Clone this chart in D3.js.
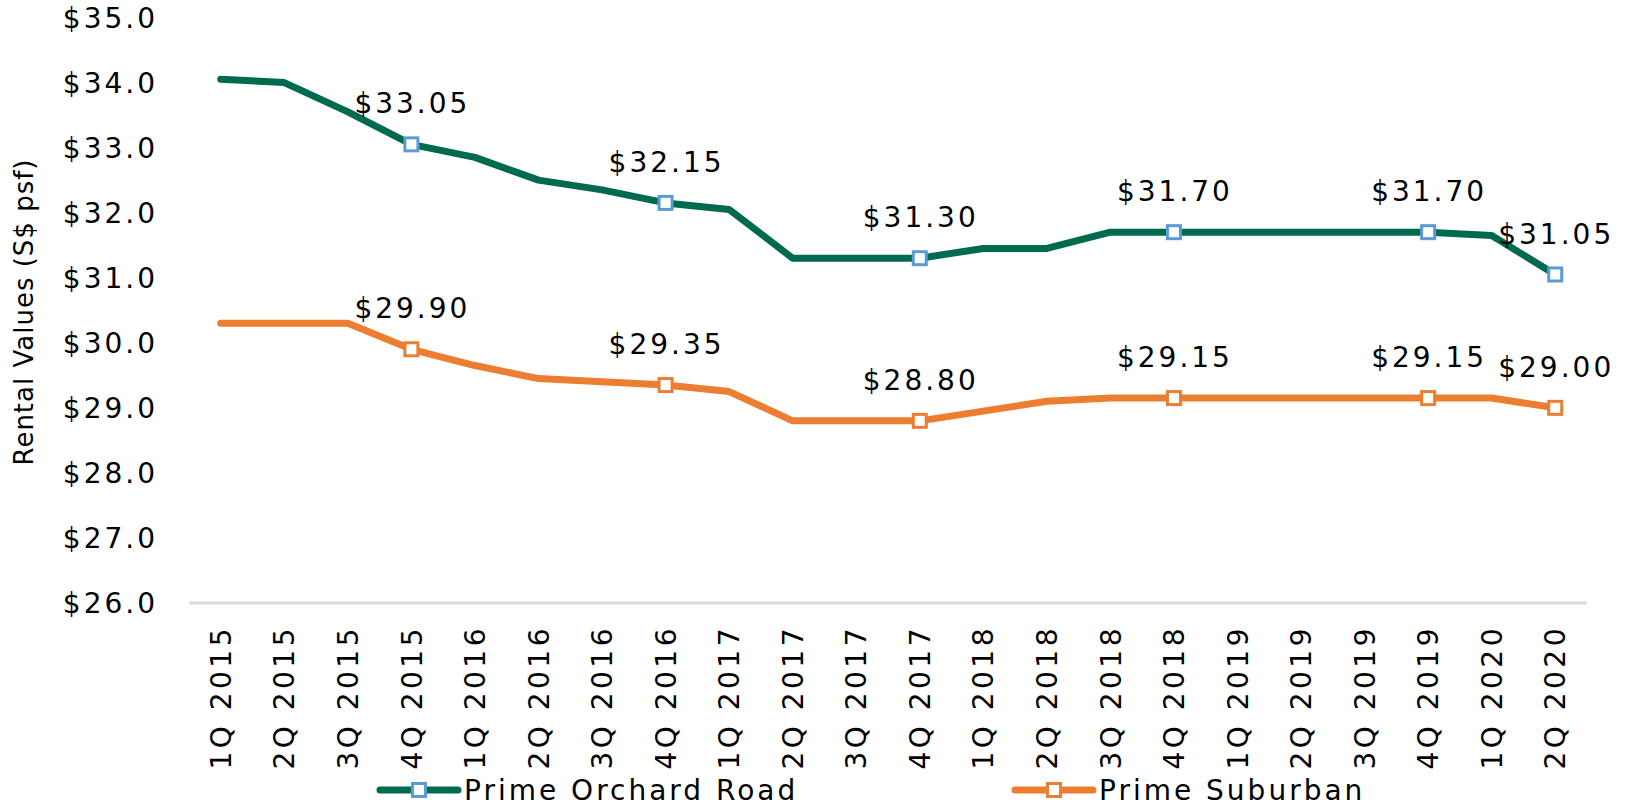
<!DOCTYPE html>
<html>
<head>
<meta charset="utf-8">
<script src="https://cdn.jsdelivr.net/npm/d3@7"></script>
<style>
  body { margin: 0; background: #fff; }
  text { font-family: "DejaVu Sans", sans-serif; fill: #000; }
</style>
</head>
<body>
<svg width="1632" height="807"></svg>
<script>
var quarters = ["1Q 2015", "2Q 2015", "3Q 2015", "4Q 2015", "1Q 2016", "2Q 2016", "3Q 2016", "4Q 2016",
  "1Q 2017", "2Q 2017", "3Q 2017", "4Q 2017", "1Q 2018", "2Q 2018", "3Q 2018", "4Q 2018",
  "1Q 2019", "2Q 2019", "3Q 2019", "4Q 2019", "1Q 2020", "2Q 2020"];
var orchard = [34.05, 34.0, 33.55, 33.05, 32.85, 32.5, 32.35, 32.15, 32.05, 31.3, 31.3, 31.3,
  31.45, 31.45, 31.7, 31.7, 31.7, 31.7, 31.7, 31.7, 31.65, 31.05];
var suburban = [30.3, 30.3, 30.3, 29.9, 29.65, 29.45, 29.4, 29.35, 29.25, 28.8, 28.8, 28.8,
  28.95, 29.1, 29.15, 29.15, 29.15, 29.15, 29.15, 29.15, 29.15, 29.0];
var labelIdx = [3, 7, 11, 15, 19, 21];
var yTicks = [26, 27, 28, 29, 30, 31, 32, 33, 34, 35];
var seriesNames = ["Prime Orchard Road", "Prime Suburban"];

var svg = d3.select("svg");
var plotLeft = 189, plotRight = 1587, plotTop = 17.5, plotBottom = 603;

var x = d3.scalePoint().domain(quarters).range([plotLeft, plotRight]).padding(0.5);
var y = d3.scaleLinear().domain([26, 35]).range([plotBottom, plotTop]);

var series = [
  {name: seriesNames[0], values: orchard, line: "#006a4e", marker: "#5b9bd5"},
  {name: seriesNames[1], values: suburban, line: "#ed7d31", marker: "#ed7d31"}
];

// y tick labels
svg.append("g").selectAll("text")
  .data(yTicks)
  .enter().append("text")
  .attr("x", 158)
  .attr("y", function(d) { return y(d); })
  .attr("dy", "0.36em")
  .style("text-anchor", "end")
  .style("font-size", "28px")
  .style("letter-spacing", "3px")
  .text(function(d) { return "$" + d.toFixed(1); });

// y title
svg.append("text")
  .attr("transform", "translate(24," + 312 + ") rotate(-90)")
  .attr("dy", "0.36em")
  .style("text-anchor", "middle")
  .style("font-size", "26px")
  .style("letter-spacing", "1px")
  .text("Rental Values (S$ psf)");

// x axis line
svg.append("line")
  .attr("x1", plotLeft).attr("x2", plotRight)
  .attr("y1", plotBottom).attr("y2", plotBottom)
  .style("stroke", "#d9d9d9")
  .style("stroke-width", 3);

// x tick labels
svg.append("g").selectAll("text")
  .data(quarters)
  .enter().append("text")
  .attr("transform", function(d) { return "translate(" + x(d) + "," + (plotBottom + 22) + ") rotate(-90)"; })
  .attr("dy", "0.36em")
  .style("text-anchor", "end")
  .style("font-size", "28px")
  .style("letter-spacing", "3.5px")
  .text(function(d) { return d; });

var line = d3.line()
  .x(function(d, i) { return x(quarters[i]); })
  .y(function(d) { return y(d); });

series.forEach(function(s) {
  svg.append("path")
    .datum(s.values)
    .attr("d", line)
    .style("fill", "none")
    .style("stroke", s.line)
    .style("stroke-width", 7)
    .style("stroke-linejoin", "round")
    .style("stroke-linecap", "round");

  svg.append("g").selectAll("rect")
    .data(labelIdx)
    .enter().append("rect")
    .attr("x", function(i) { return x(quarters[i]) - 6.5; })
    .attr("y", function(i) { return y(s.values[i]) - 6.5; })
    .attr("width", 13).attr("height", 13)
    .style("fill", "#fff")
    .style("stroke", s.marker)
    .style("stroke-width", 3);

  svg.append("g").selectAll("text")
    .data(labelIdx)
    .enter().append("text")
    .attr("x", function(i) { return x(quarters[i]) + 1; })
    .attr("y", function(i) { return y(s.values[i]) - 41; })
    .attr("dy", "0.36em")
    .style("text-anchor", "middle")
    .style("font-size", "28px")
    .style("letter-spacing", "3px")
    .text(function(i) { return "$" + s.values[i].toFixed(2); });
});

// legend
var legendX = [380, 1015];
var legend = svg.append("g").selectAll("g")
  .data(series)
  .enter().append("g")
  .attr("transform", function(d, i) { return "translate(" + legendX[i] + ",790)"; });
legend.append("line")
  .attr("x1", 0).attr("x2", 78)
  .style("stroke", function(d) { return d.line; })
  .style("stroke-width", 7)
  .style("stroke-linecap", "round");
legend.append("rect")
  .attr("x", 32.5).attr("y", -6.5)
  .attr("width", 13).attr("height", 13)
  .style("fill", "#fff")
  .style("stroke", function(d) { return d.marker; })
  .style("stroke-width", 3);
legend.append("text")
  .attr("x", 84)
  .attr("dy", "0.36em")
  .style("font-size", "28px")
  .style("letter-spacing", "3px")
  .text(function(d) { return d.name; });
</script>
</body>
</html>
